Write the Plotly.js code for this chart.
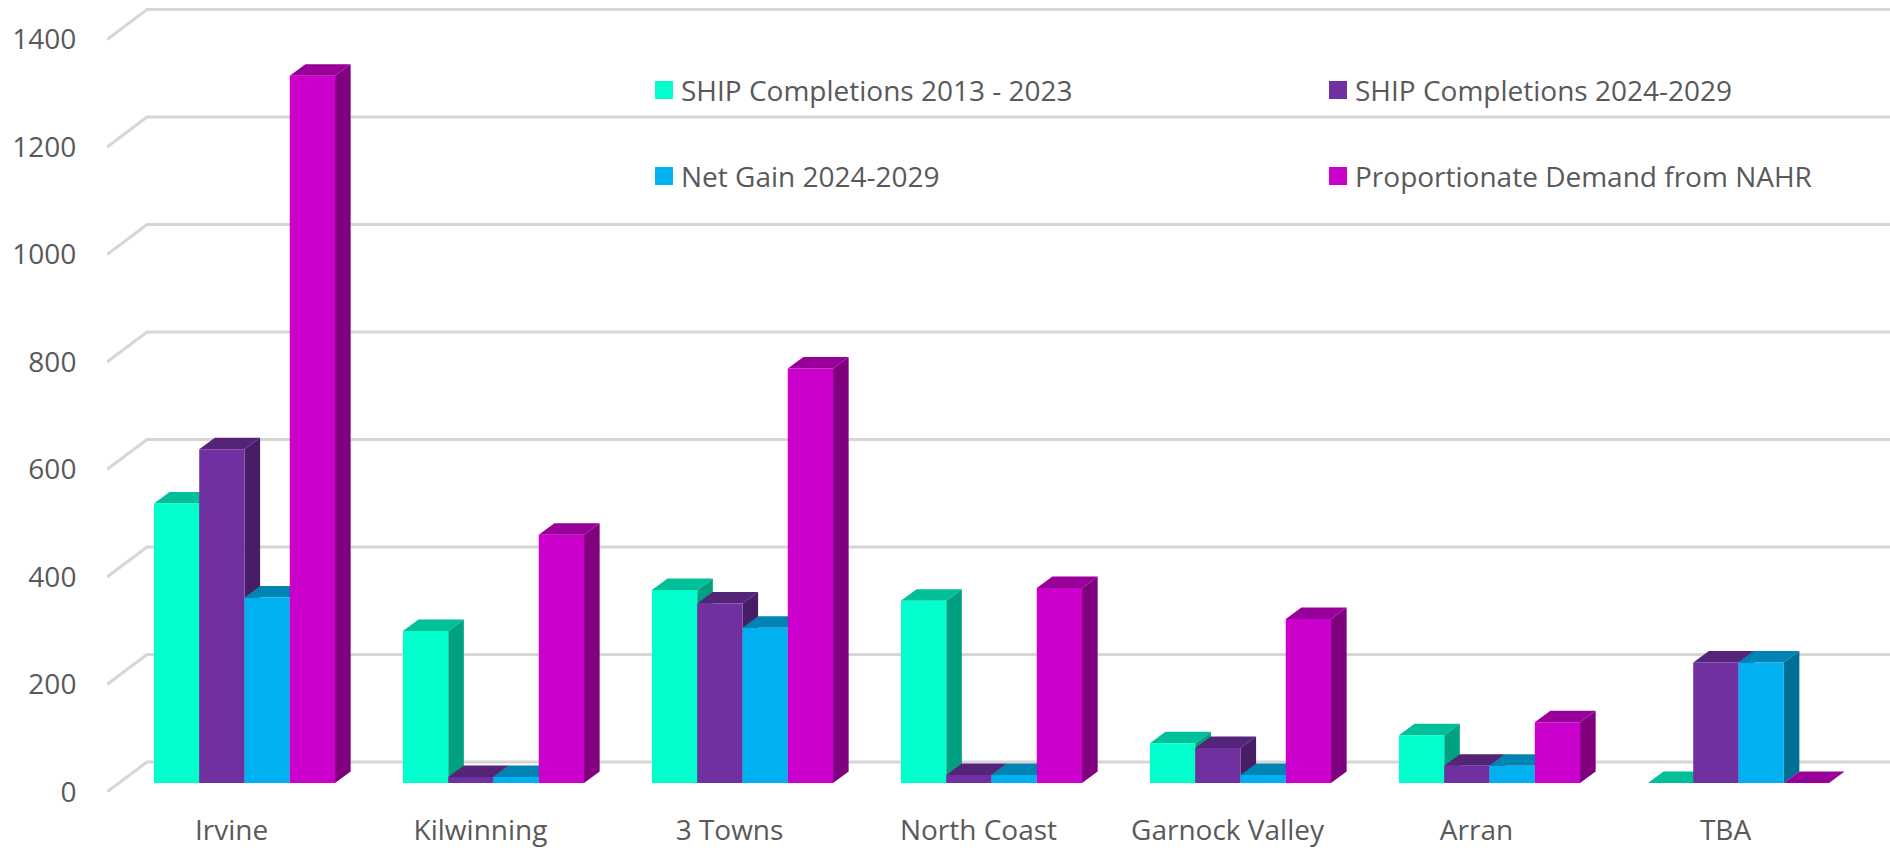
<!DOCTYPE html>
<html>
<head>
<meta charset="utf-8">
<script src="https://cdn.plot.ly/plotly-3.0.1.min.js"></script>
<style>html,body{margin:0;padding:0;background:#fff}#chart{width:1890px;height:848px}</style>
</head>
<body>
<div id="chart"></div>
<script>
// ---- data ----
const categories = ["Irvine", "Kilwinning", "3 Towns", "North Coast", "Garnock Valley", "Arran", "TBA"];
const shipCompletions2013 = [520, 283, 359, 339, 74, 89, 0];
const shipCompletions2024 = [621, 11, 334, 15, 65, 32, 224];
const netGain2024 = [345, 11, 289, 15, 15, 32, 224];
const demandNAHR = [1316, 462, 771, 363, 305, 113, 0];
const seriesNames = ["SHIP Completions 2013 - 2023", "SHIP Completions 2024-2029", "Net Gain 2024-2029", "Proportionate Demand from NAHR"];
const yTicks = [0, 200, 400, 600, 800, 1000, 1200, 1400];

// ---- styles ----
const frontColors = ["#00FFCC", "#7030A0", "#00B0F0", "#CC00CC"];
const topColors = ["#00BF99", "#542478", "#0084B4", "#990099"];
const sideColors = ["#00A180", "#471E65", "#006F97", "#800080"];
const seriesValues = [shipCompletions2013, shipCompletions2024, netGain2024, demandNAHR];
const textColor = "#595959";
const fontFamily = "'Open Sans', sans-serif";

// ---- geometry in axis units ----
const pxPerCat = 249, pxPerVal = 107.5 / 200;
const mL = 107, mT = 5, mB = 56, W = 1890, H = 848;
const xMax = (W - mL) / pxPerCat, yMax = (H - mT - mB) / pxPerVal;
const cx = p => p / pxPerCat, cv = p => p / pxPerVal;
const barW = (1 - 1.5 / 5.5) / 4;           // Excel gap width 150 %
const shiftX = cx(13), baseV = cv(9);       // bars stand inside the floor
const depthX = cx(15.6), depthV = cv(11.5); // bar depth
const wallX = cx(40), wallV = cv(30);       // floor depth

// gridlines
const gx = [], gy = [];
yTicks.forEach(v => {
  gx.push(0, wallX, categories.length + wallX, null);
  gy.push(v, v + wallV, v + wallV, null);
});
const traces = [{
  type: "scatter", mode: "lines", x: gx, y: gy, zorder: 0, hoverinfo: "skip", showlegend: false,
  line: { color: "#d6d6d6", width: 3 }, connectgaps: false
}];

// bars: top + side faces (computed from values), then front face as a real bar trace
seriesValues.forEach((vals, s) => {
  const tx = [], ty = [], sx = [], sy = [], fx = [];
  vals.forEach((v, i) => {
    const l = i + 0.5 + shiftX - 2 * barW + s * barW, r = l + barW;
    const b = baseV, t = baseV + v;
    fx.push(i + 0.5 + shiftX);
    tx.push(l, r, r + depthX, l + depthX, l, null);
    ty.push(t, t, t + depthV, t + depthV, t, null);
    if (v > 0) {
      sx.push(r, r + depthX, r + depthX, r, r, null);
      sy.push(b, b + depthV, t + depthV, t, b, null);
    }
  });
  traces.push({
    type: "scatter", mode: "lines", x: sx, y: sy, fill: "toself", fillcolor: sideColors[s],
    line: { width: 0, color: sideColors[s] }, zorder: 1 + s * 2, hoverinfo: "skip", showlegend: false
  });
  traces.push({
    type: "scatter", mode: "lines", x: tx, y: ty, fill: "toself", fillcolor: topColors[s],
    line: { width: 0, color: topColors[s] }, zorder: 1 + s * 2, hoverinfo: "skip", showlegend: false
  });
  traces.push({
    type: "bar", name: seriesNames[s], x: fx, y: vals, base: baseV, width: barW,
    offset: -2 * barW + s * barW, marker: { color: frontColors[s], line: { width: 0 } },
    zorder: 2 + s * 2, showlegend: false, customdata: categories,
    hovertemplate: "%{customdata}<br>" + seriesNames[s] + ": %{y}<extra></extra>"
  });
});

// legend
const legendCols = [655, 1329], legendRows = [90, 176];
const shapes = [], annotations = [];
seriesNames.forEach((n, s) => {
  const lx = legendCols[s % 2], ly = legendRows[Math.floor(s / 2)];
  shapes.push({
    type: "rect", xref: "paper", yref: "paper", layer: "above", line: { width: 0 }, fillcolor: frontColors[s],
    x0: (lx - mL) / (W - mL), x1: (lx + 18 - mL) / (W - mL),
    y0: (H - mB - ly - 9) / (H - mT - mB), y1: (H - mB - ly + 9) / (H - mT - mB)
  });
  annotations.push({
    text: n, xref: "paper", yref: "paper", showarrow: false, xanchor: "left", yanchor: "middle",
    x: (lx + 24 - mL) / (W - mL), y: (H - mB - ly) / (H - mT - mB),
    font: { family: fontFamily, size: 28, color: textColor }
  });
});

Plotly.newPlot("chart", traces, {
  width: W, height: H, margin: { l: mL, r: 0, t: mT, b: mB, pad: 0 },
  paper_bgcolor: "#fff", plot_bgcolor: "#fff", barmode: "overlay", showlegend: false,
  hovermode: "closest",
  xaxis: {
    range: [0, xMax], tickvals: categories.map((c, i) => i + 0.5), ticktext: categories,
    showgrid: false, zeroline: false, showline: false, ticks: "outside", ticklen: 13, tickcolor: "rgba(0,0,0,0)",
    tickfont: { family: fontFamily, size: 28, color: textColor }, fixedrange: true
  },
  yaxis: {
    range: [0, yMax], tickvals: yTicks, ticktext: yTicks.map(String),
    showgrid: false, zeroline: false, showline: false, ticks: "outside", ticklen: 24, tickcolor: "rgba(0,0,0,0)",
    tickfont: { family: fontFamily, size: 28, color: textColor }, fixedrange: true
  },
  shapes, annotations
}, { displayModeBar: false, responsive: false });
</script>
</body>
</html>
